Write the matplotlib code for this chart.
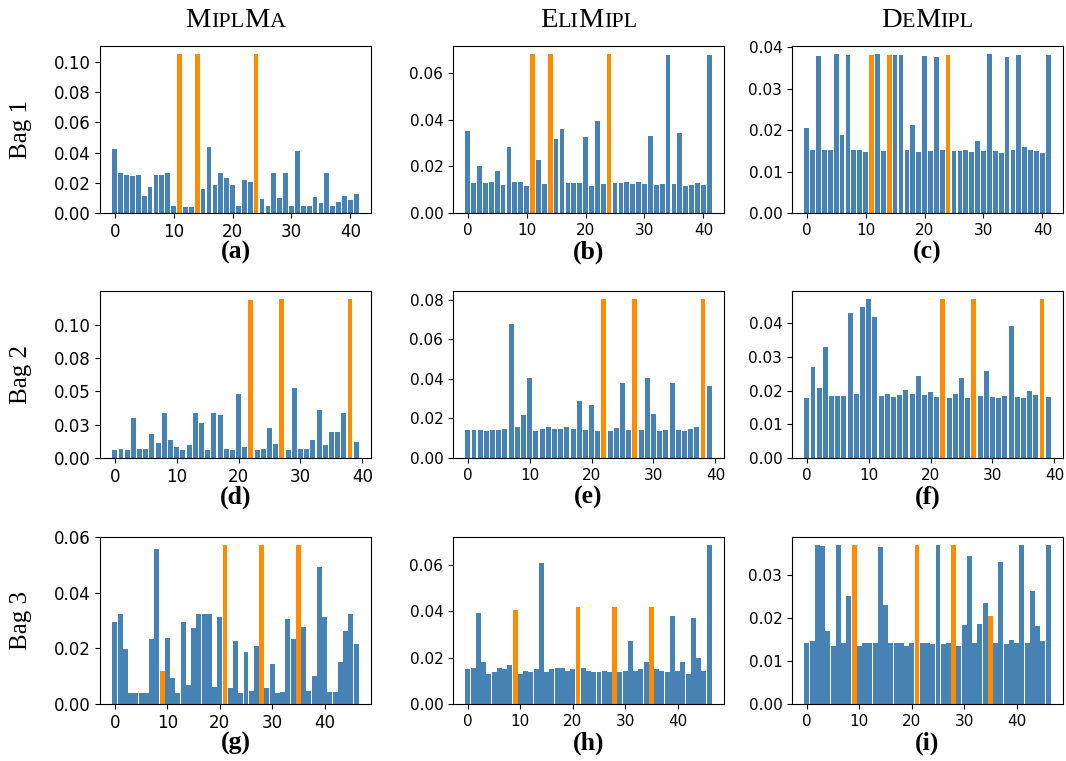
import numpy as np
import matplotlib
matplotlib.use("Agg")
import matplotlib.pyplot as plt

# kolory slupkow
BLUE = "#4682B4"
ORANGE = "#FF8C00"

# Bag 1 (42 instancje)
a_vals = [0.0425, 0.0267, 0.0253, 0.0247, 0.0253, 0.0115, 0.0174, 0.0253, 0.0253, 0.0267,
          0.0048, 0.1053, 0.0042, 0.0042, 0.1053, 0.0160, 0.0438, 0.0187, 0.0267, 0.0233,
          0.0187, 0.0048, 0.0220, 0.0207, 0.1053, 0.0095, 0.0048, 0.0267, 0.0101, 0.0267,
          0.0048, 0.0412, 0.0048, 0.0048, 0.0108, 0.0068, 0.0267, 0.0048, 0.0075, 0.0115,
          0.0088, 0.0128]
b_vals = [0.0352, 0.0128, 0.0202, 0.0128, 0.0134, 0.0181, 0.0121, 0.0284, 0.0134, 0.0134,
          0.0117, 0.0681, 0.0228, 0.0125, 0.0681, 0.0318, 0.0361, 0.0128, 0.0128, 0.0128,
          0.0326, 0.0117, 0.0395, 0.0125, 0.0681, 0.0128, 0.0128, 0.0134, 0.0125, 0.0134,
          0.0125, 0.0331, 0.0121, 0.0125, 0.0677, 0.0125, 0.0343, 0.0117, 0.0121, 0.0128,
          0.0121, 0.0677]
c_vals = [0.0206, 0.0153, 0.0379, 0.0153, 0.0153, 0.0384, 0.0189, 0.0382, 0.0153, 0.0153,
          0.0148, 0.0382, 0.0384, 0.0150, 0.0382, 0.0382, 0.0382, 0.0153, 0.0213, 0.0148,
          0.0379, 0.0150, 0.0377, 0.0153, 0.0382, 0.0150, 0.0150, 0.0153, 0.0148, 0.0174,
          0.0150, 0.0384, 0.0150, 0.0145, 0.0377, 0.0153, 0.0382, 0.0160, 0.0153, 0.0150,
          0.0145, 0.0382]
bag1_pos = [11, 14, 24]

# Bag 2 (40 instancji)
d_vals = [0.0062, 0.0070, 0.0062, 0.0302, 0.0070, 0.0070, 0.0182, 0.0115, 0.0339, 0.0137,
          0.0085, 0.0062, 0.0100, 0.0339, 0.0264, 0.0062, 0.0339, 0.0324, 0.0070, 0.0062,
          0.0481, 0.0085, 0.1185, 0.0062, 0.0070, 0.0227, 0.0107, 0.1192, 0.0062, 0.0526,
          0.0070, 0.0070, 0.0137, 0.0362, 0.0100, 0.0197, 0.0197, 0.0339, 0.1192, 0.0122]
e_vals = [0.0143, 0.0143, 0.0143, 0.0138, 0.0143, 0.0143, 0.0148, 0.0678, 0.0158, 0.0219,
          0.0406, 0.0138, 0.0148, 0.0158, 0.0148, 0.0148, 0.0158, 0.0148, 0.0290, 0.0143,
          0.0269, 0.0138, 0.0805, 0.0138, 0.0153, 0.0380, 0.0143, 0.0805, 0.0143, 0.0406,
          0.0224, 0.0138, 0.0143, 0.0380, 0.0143, 0.0138, 0.0148, 0.0158, 0.0805, 0.0365]
f_vals = [0.0179, 0.0271, 0.0209, 0.0331, 0.0185, 0.0185, 0.0185, 0.0432, 0.0191, 0.0450,
          0.0473, 0.0420, 0.0185, 0.0191, 0.0182, 0.0188, 0.0203, 0.0191, 0.0245, 0.0188,
          0.0197, 0.0182, 0.0473, 0.0179, 0.0191, 0.0239, 0.0179, 0.0473, 0.0185, 0.0259,
          0.0182, 0.0179, 0.0185, 0.0393, 0.0182, 0.0179, 0.0200, 0.0188, 0.0473, 0.0182]
bag2_pos = [22, 27, 38]

# Bag 3 (47 instancji)
g_vals = [0.0296, 0.0322, 0.0199, 0.0041, 0.0041, 0.0041, 0.0041, 0.0232, 0.0559, 0.0120,
          0.0239, 0.0095, 0.0041, 0.0296, 0.0070, 0.0275, 0.0322, 0.0322, 0.0325, 0.0062,
          0.0314, 0.0572, 0.0059, 0.0228, 0.0041, 0.0188, 0.0048, 0.0210, 0.0572, 0.0059,
          0.0145, 0.0041, 0.0044, 0.0307, 0.0232, 0.0572, 0.0278, 0.0048, 0.0102, 0.0491,
          0.0314, 0.0044, 0.0044, 0.0152, 0.0264, 0.0322, 0.0214]
h_vals = [0.0149, 0.0153, 0.0391, 0.0183, 0.0131, 0.0136, 0.0153, 0.0149, 0.0170, 0.0404,
          0.0131, 0.0144, 0.0136, 0.0149, 0.0607, 0.0136, 0.0149, 0.0157, 0.0153, 0.0140,
          0.0149, 0.0417, 0.0153, 0.0144, 0.0136, 0.0136, 0.0140, 0.0136, 0.0417, 0.0136,
          0.0144, 0.0270, 0.0140, 0.0149, 0.0183, 0.0417, 0.0149, 0.0144, 0.0136, 0.0378,
          0.0144, 0.0179, 0.0131, 0.0369, 0.0196, 0.0144, 0.0685]
i_vals = [0.0141, 0.0146, 0.0370, 0.0368, 0.0169, 0.0136, 0.0370, 0.0141, 0.0251, 0.0370,
          0.0136, 0.0143, 0.0141, 0.0143, 0.0365, 0.0230, 0.0143, 0.0143, 0.0143, 0.0134,
          0.0143, 0.0370, 0.0143, 0.0141, 0.0139, 0.0370, 0.0139, 0.0143, 0.0370, 0.0136,
          0.0183, 0.0344, 0.0143, 0.0185, 0.0235, 0.0204, 0.0141, 0.0330, 0.0139, 0.0150,
          0.0143, 0.0370, 0.0141, 0.0263, 0.0181, 0.0146, 0.0370]
bag3_pos = [9, 21, 28, 35]

panels = [[a_vals, b_vals, c_vals],
          [d_vals, e_vals, f_vals],
          [g_vals, h_vals, i_vals]]
positives = [bag1_pos, bag2_pos, bag3_pos]
row_names = ["Bag 1", "Bag 2", "Bag 3"]
captions = ["(a)", "(b)", "(c)", "(d)", "(e)", "(f)", "(g)", "(h)", "(i)"]
# tytuly kolumn w kapitalikach: (tekst, czy duza litera)
col_titles = [[("M", True), ("IPL", False), ("M", True), ("A", False)],
              [("E", True), ("LI", False), ("M", True), ("IPL", False)],
              [("D", True), ("E", False), ("M", True), ("IPL", False)]]
# podzialki osi y (None = domyslne)
yticks = [[[0, 0.02, 0.04, 0.06, 0.08, 0.10], None, None],
          [[0, 0.025, 0.05, 0.075, 0.10], None, None],
          [[0, 0.02, 0.04, 0.06], None, None]]
d_ticklabels = ["0.00", "0.03", "0.05", "0.08", "0.10"]
bar_width = [0.8, 0.8, 0.95]
tick_size = [12, 11, 11]

W, H = 1066, 761
fig = plt.figure(figsize=(W / 100, H / 100), dpi=100)

col_left = [100, 453, 792]
row_top = [46, 291, 537]
ax_w, ax_h = 271, 167
serif = "Liberation Serif"

for r in range(3):
    for c in range(3):
        x0, y0 = col_left[c], row_top[r]
        ax = fig.add_axes([x0 / W, 1 - (y0 + ax_h) / H, ax_w / W, ax_h / H])
        vals = panels[r][c]
        kolory = [ORANGE if k in positives[r] else BLUE for k in range(len(vals))]
        ax.bar(np.arange(len(vals)), vals, color=kolory, width=bar_width[r])
        ax.tick_params(labelsize=tick_size[c])
        if yticks[r][c] is not None:
            ax.set_yticks(yticks[r][c])
        if r == 1 and c == 0:
            ax.set_yticklabels(d_ticklabels)
        else:
            ax.yaxis.set_major_formatter(matplotlib.ticker.FormatStrFormatter("%.2f"))
        ax.set_xticks([0, 10, 20, 30, 40])
        # podpis (a), (b), ...
        fig.text((x0 + ax_w / 2) / W, 1 - (row_top[r] + 206) / H,
                 captions[r * 3 + c], ha="center", va="center",
                 fontsize=18.5, fontweight="bold", family=serif)
    fig.text(21 / W, 1 - (row_top[r] + ax_h / 2) / H, row_names[r], rotation=90,
             ha="center", va="center", fontsize=18, family=serif)

# tytuly kolumn - kapitaliki skladane z kawalkow
renderer = fig.canvas.get_renderer()
for c in range(3):
    cx = col_left[c] + ax_w / 2
    kawalki = []
    for txt, big in col_titles[c]:
        t = fig.text(0, 1 - 27 / H, txt, fontsize=20.5 if big else 15.8,
                     family=serif, ha="left", va="baseline")
        kawalki.append(t)
    widths = [t.get_window_extent(renderer).width for t in kawalki]
    x = cx - sum(widths) / 2
    for t, w in zip(kawalki, widths):
        t.set_x(x / W)
        x += w

fig.savefig("out.png", dpi=100)
